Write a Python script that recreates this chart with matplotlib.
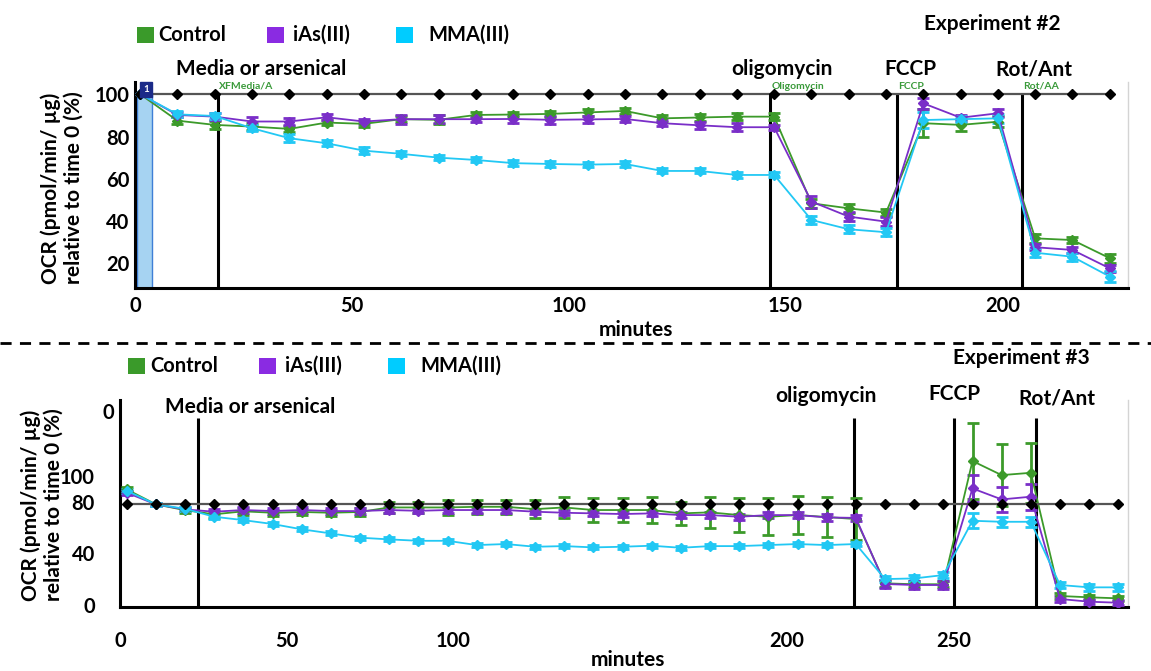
import numpy as np
import matplotlib
matplotlib.use('Agg')
import matplotlib.pyplot as plt
from matplotlib.patches import Rectangle
from matplotlib.lines import Line2D

plt.rcParams['font.family'] = ['Lato', 'DejaVu Sans']
plt.rcParams['font.weight'] = 'bold'

# ---- data ----
series = ['Control', 'iAs(III)', 'MMA(III)']
colors = ['#3c9a2a', '#7a2ec8', '#22c8f4']
legend_colors = ['#3a9a2a', '#8a2be2', '#00ccff']

# Experiment #2
t2 = [1.2, 9.8, 18.4, 27.0, 35.6, 44.2, 52.8, 61.4, 70.0, 78.6, 87.2, 95.8, 104.4,
      113.0, 121.6, 130.2, 138.8, 147.4, 156.0, 164.6, 173.2, 181.8, 190.4, 199.0,
      207.6, 216.2, 224.8]
ctrl2 = [100, 87.5, 85.5, 84.7, 83.6, 86.6, 86.0, 88.2, 87.9, 90.2, 90.4, 90.7, 91.4,
         92.1, 88.6, 89.0, 89.4, 89.4, 48.4, 46.0, 44.0, 86.3, 85.5, 87.0, 31.8, 31.0, 22.4]
ias2 = [100, 90.2, 89.4, 87.1, 87.1, 89.1, 87.1, 88.2, 88.2, 88.2, 88.3, 87.9, 88.1,
        88.3, 86.3, 85.3, 84.4, 84.4, 49.2, 42.1, 39.7, 95.7, 88.9, 91.0, 27.6, 26.3, 17.6]
mma2 = [100, 90.5, 89.7, 83.9, 79.2, 76.8, 73.3, 71.8, 70.0, 68.9, 67.4, 67.0, 66.7,
        67.0, 63.7, 63.7, 61.8, 61.8, 40.5, 36.1, 34.7, 87.8, 88.2, 88.6, 25.0, 23.1, 13.7]
ctrl2_err = [0, 1.5, 1.8, 1.5, 1.5, 1.2, 1.5, 1.5, 2.2, 1.5, 1.3, 1.3, 1.8, 1.5, 1.5,
             1.8, 1.8, 1.8, 2.0, 2.0, 1.5, 6.5, 3.0, 2.5, 2.0, 1.5, 2.2]
ias2_err = [0, 1.2, 1.5, 2.2, 1.5, 1.5, 1.0, 2.2, 1.8, 1.5, 1.8, 2.0, 1.8, 1.5, 1.5,
            1.8, 1.8, 1.2, 2.8, 2.0, 2.0, 2.5, 1.5, 2.0, 1.5, 1.5, 1.5]
mma2_err = [0, 1.5, 1.5, 1.5, 1.8, 1.5, 1.5, 1.2, 1.2, 1.2, 1.5, 1.2, 1.2, 1.2, 1.2,
            1.2, 1.5, 1.2, 2.0, 1.8, 1.8, 4.0, 1.5, 2.0, 2.0, 2.0, 2.5]
ref2 = 100
inj2 = [19.1, 146.4, 175.7, 204.6]
inj2_tags = ['XFMedia/A', 'Oligomycin', 'FCCP', 'Rot/AA']

# Experiment #3
t3 = [2.0, 10.75, 19.5, 28.25, 37.0, 45.75, 54.5, 63.25, 72.0, 80.75, 89.5, 98.25,
      107.0, 115.75, 124.5, 133.25, 142.0, 150.75, 159.5, 168.25, 177.0, 185.75,
      194.5, 203.25, 212.0, 220.75, 229.5, 238.25, 247.0, 255.75, 264.5, 273.25,
      282.0, 290.75, 299.5]
ctrl3 = [89.6, 78.0, 73.5, 70.3, 72.6, 71.5, 72.1, 71.5, 72.1, 75.6, 75.6, 75.6, 76.1,
         76.1, 74.3, 75.6, 73.6, 73.6, 73.6, 71.0, 71.8, 69.7, 68.4, 69.7, 68.2, 66.6,
         16.9, 16.2, 16.2, 111.5, 100.6, 102.4, 7.1, 6.1, 5.3]
ias3 = [87.0, 78.0, 74.1, 72.3, 73.6, 72.8, 73.6, 72.8, 72.8, 73.6, 73.0, 73.6, 73.6,
        73.6, 72.3, 71.5, 71.0, 70.5, 71.0, 69.7, 69.7, 68.4, 69.7, 69.7, 67.9, 67.5,
        16.4, 15.6, 15.6, 90.3, 81.8, 83.9, 4.8, 2.7, 1.9]
mma3 = [88.5, 78.0, 74.6, 68.4, 65.8, 62.8, 58.7, 55.5, 52.2, 50.9, 49.8, 49.8, 46.5,
        47.3, 45.2, 45.7, 44.7, 45.2, 46.0, 44.4, 45.7, 45.7, 46.5, 47.3, 46.5, 47.3,
        20.2, 20.7, 23.3, 65.3, 64.5, 64.5, 15.6, 13.8, 13.8]
ctrl3_err = [1.5, 1.0, 2.0, 2.5, 2.5, 2.5, 2.5, 2.5, 3.0, 4.5, 4.5, 5.8, 5.2, 5.2, 7.1,
             8.4, 9.0, 9.0, 10.3, 9.0, 12.2, 12.9, 14.2, 14.8, 15.2, 16.0, 2.5, 2.5, 2.5,
             29.6, 23.7, 23.2, 2.0, 2.0, 2.0]
ias3_err = [1.5, 1.0, 1.5, 2.0, 2.0, 2.0, 2.0, 2.0, 2.0, 2.0, 2.0, 2.0, 2.0, 2.0, 2.0,
            2.0, 2.0, 2.0, 2.0, 2.5, 2.5, 2.5, 2.5, 2.5, 2.5, 2.5, 3.0, 3.0, 3.0,
            10.3, 9.7, 10.0, 2.0, 2.0, 2.0]
mma3_err = [1.5, 1.0, 1.5, 1.5, 1.5, 1.5, 1.5, 1.5, 1.5, 1.5, 1.5, 1.5, 1.5, 1.5, 1.5,
            1.5, 1.5, 1.5, 1.5, 1.5, 1.5, 1.5, 1.5, 1.5, 1.5, 1.5, 2.5, 2.5, 2.5,
            5.8, 4.0, 4.0, 2.5, 2.5, 2.5]
ref3 = 78.0
inj3 = [23.4, 220.2, 250.2, 274.8]

inj_names = ['Media or arsenical', 'oligomycin', 'FCCP', 'Rot/Ant']

# ---- layout helpers (pixel coordinates of the 1151x671 canvas) ----
W, H = 1151, 671
fig = plt.figure(figsize=(W / 100, H / 100), dpi=100)


def fx(px):
    return px / W


def fy(py):
    return 1 - py / H


def rect(l, t, r, b):
    return [fx(l), fy(b), (r - l) / W, (b - t) / H]


def style_axes(ax):
    for s in ['left', 'bottom']:
        ax.spines[s].set_linewidth(2.2)
        ax.spines[s].set_color('black')
    ax.spines['top'].set_visible(False)
    ax.spines['right'].set_color('#d4d4d4')
    ax.spines['right'].set_linewidth(1)
    ax.tick_params(length=0, labelsize=14.5)


def draw_series(ax, t, vals, errs, ref):
    for v, e, c in zip(vals, errs, colors):
        ax.errorbar(t, v, yerr=e, color=c, marker='D', ms=5, lw=1.3,
                    elinewidth=2, capsize=4, capthick=2, zorder=3)
    ax.plot(t, [ref] * len(t), color='#555555', lw=1.6, marker='D', ms=5,
            mfc='black', mec='black', zorder=4)


# ---- top panel: Experiment #2 ----
ax1 = fig.add_axes(rect(135, 82, 1128, 288))
ax1.set_xlim(0, 229)
ax1.set_ylim(8.3, 105.8)
style_axes(ax1)
ax1.axvspan(0.5, 3.9, ymin=0, ymax=(100 - 8.3) / (105.8 - 8.3),
            fc='#a6d3f2', ec='#3f7fd6', lw=1, zorder=1)
ax1.text(2.5, 102.4, '1', color='white', fontsize=7, ha='center', va='center',
         bbox=dict(boxstyle='square,pad=0.3', fc='#1b2a88', ec='#1b2a88'), zorder=6)
ax1.vlines(inj2, 8.3, 100, color='black', lw=2.2, zorder=2)
draw_series(ax1, t2, [ctrl2, ias2, mma2], [ctrl2_err, ias2_err, mma2_err], ref2)
ax1.set_xticks([0, 50, 100, 150, 200])
ax1.set_yticks([20, 40, 60, 80, 100])
ax1.tick_params(axis='x', pad=6)
ax1.tick_params(axis='y', pad=4)
for x, tag in zip(inj2, inj2_tags):
    ax1.text(x + 0.3, 101.6, tag, color='#3a9a3a', fontsize=7.5, ha='left',
             va='bottom', zorder=5)

# ---- bottom panel: Experiment #3 ----
ax2 = fig.add_axes(rect(120, 400, 1128, 607))
ax2.set_xlim(0, 302.4)
ax2.set_ylim(-1.4, 158.7)
style_axes(ax2)
ax2.vlines(inj3, -1.4, 145, color='black', lw=2.2, zorder=2)
draw_series(ax2, t3, [ctrl3, ias3, mma3], [ctrl3_err, ias3_err, mma3_err], ref3)
ax2.set_xticks([0, 50, 100, 200, 250])
ax2.set_yticks([0, 40, 80, 100, 150])
ax2.set_yticklabels(['0', '40', '80', '100', '0'])
ax2.tick_params(axis='x', pad=17)
ax2.tick_params(axis='y', pad=18)
ax2.yaxis.get_major_ticks()[-1].set_pad(4)

# ---- texts ----
txt = dict(fontsize=15, fontweight='bold', ha='center', va='center')
for name, px in zip(inj_names, [261, 782, 910, 1034]):
    fig.text(fx(px), fy(69), name, **txt)
for name, px, py in zip(inj_names, [250, 826, 954, 1057], [407, 396, 394, 398]):
    fig.text(fx(px), fy(py), name, **txt)

fig.text(fx(992), fy(24), 'Experiment #2', **txt)
fig.text(fx(1021), fy(358), 'Experiment #3', **txt)
fig.text(fx(636), fy(330), 'minutes', **txt)
fig.text(fx(628), fy(660), 'minutes', **txt)

ylab = 'OCR (pmol/min/ \u00b5g)\nrelative to time 0 (%)'
fig.text(fx(62), fy(188), ylab, rotation=90, fontsize=15, fontweight='bold',
         ha='center', va='center', multialignment='center', linespacing=1.15)
fig.text(fx(42), fy(505), ylab, rotation=90, fontsize=15, fontweight='bold',
         ha='center', va='center', multialignment='center', linespacing=1.15)

# legends
for y0, sq_x, txt_x in [(35, [137, 267, 396], [158, 293, 428]),
                        (366, [128, 259, 388], [150, 285, 420])]:
    for name, c, sx, tx in zip(series, legend_colors, sq_x, txt_x):
        fig.add_artist(Rectangle((fx(sx), fy(y0 + 8)), 17 / W, 16 / H,
                                 transform=fig.transFigure, fc=c, ec='none'))
        fig.text(fx(tx), fy(y0), name, fontsize=14.5, fontweight='bold',
                 ha='left', va='center')

# dashed separator between the two experiments
fig.add_artist(Line2D([0, 1], [fy(343), fy(343)], transform=fig.transFigure,
                      color='black', lw=2, ls=(0, (4, 3))))

fig.savefig('out.png', dpi=100)
